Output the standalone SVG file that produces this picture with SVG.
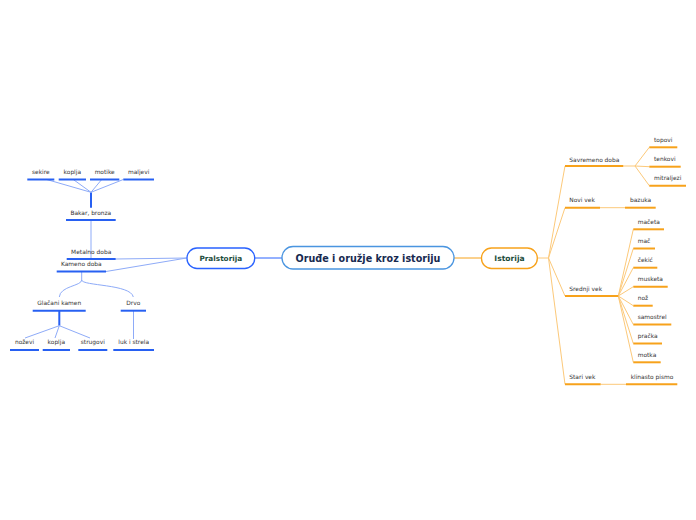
<svg xmlns="http://www.w3.org/2000/svg" width="696" height="520" viewBox="0 0 696 520">
<style>
  .t{font-family:"DejaVu Sans","Verdana",sans-serif;font-size:5.9px;fill:#333333}
  .c{text-anchor:middle}
  .ub{stroke:#2760f2;stroke-width:2;fill:none}
  .uo{stroke:#f7a21b;stroke-width:2;fill:none}
  .lb{stroke:#8eabf8;stroke-width:1;fill:none}
  .lo{stroke:#fcc97a;stroke-width:1;fill:none}
  .main{font-family:"DejaVu Sans","Verdana",sans-serif;font-weight:bold}
</style>
<rect width="696" height="520" fill="#ffffff"/>
<g id="connectors">
  <line x1="254.7" y1="258" x2="282" y2="258" stroke="#2962ff" stroke-width="1"/>
  <line x1="454" y1="258" x2="481.3" y2="258" stroke="#f7a21b" stroke-width="1"/>
  <!-- left -->
  <line class="lb" x1="186.7" y1="258" x2="115.7" y2="259"/>
  <line class="lb" x1="186.7" y1="258" x2="106" y2="271.5"/>
  <line class="lb" x1="91" y1="221" x2="91" y2="259"/>
  <line x1="91" y1="192.3" x2="91" y2="207.7" stroke="#2760f2" stroke-width="2"/>
  <line class="lb" x1="91" y1="192.3" x2="46.7" y2="179.5"/>
  <line class="lb" x1="91" y1="192.3" x2="73.3" y2="179.5"/>
  <line class="lb" x1="91" y1="192.3" x2="101.7" y2="179.5"/>
  <line class="lb" x1="91" y1="192.3" x2="123.3" y2="179.5"/>
  <path class="lb" d="M81.7,271.7 L81.7,280 C81.7,286 60,286 59.3,297"/>
  <path class="lb" d="M81.7,280 C81.7,286 131,284 133.3,297"/>
  <line x1="59.3" y1="311" x2="59.3" y2="325.7" stroke="#2760f2" stroke-width="2"/>
  <line class="lb" x1="59.3" y1="325.7" x2="25" y2="338"/>
  <line class="lb" x1="59.3" y1="325.7" x2="55" y2="338"/>
  <line class="lb" x1="59.3" y1="325.7" x2="90" y2="338"/>
  <line class="lb" x1="133.5" y1="311" x2="133.5" y2="339"/>
  <!-- right -->
  <line class="lo" x1="537.3" y1="258" x2="548.5" y2="258" stroke="#f7a21b"/>
  <line class="lo" x1="548.5" y1="258" x2="565" y2="166"/>
  <line class="lo" x1="548.5" y1="258" x2="565" y2="207.7"/>
  <line class="lo" x1="548.5" y1="258" x2="565" y2="296"/>
  <line class="lo" x1="548.5" y1="258" x2="565" y2="384.3"/>
  <line class="lo" x1="623.3" y1="166" x2="635" y2="166"/>
  <line class="lo" x1="635" y1="166" x2="649.3" y2="147.3"/>
  <line class="lo" x1="635" y1="166" x2="649.3" y2="166.7"/>
  <line class="lo" x1="635" y1="166" x2="649.3" y2="185.7"/>
  <line class="lo" x1="600" y1="207.7" x2="625" y2="207.7"/>
  <line class="lo" x1="600.7" y1="384.3" x2="626" y2="384.3"/>
  <line class="lo" x1="618.3" y1="296" x2="633.3" y2="229.3"/>
  <line class="lo" x1="618.3" y1="296" x2="633.3" y2="248.5"/>
  <line class="lo" x1="618.3" y1="296" x2="633.3" y2="267.7"/>
  <line class="lo" x1="618.3" y1="296" x2="633.3" y2="286.7"/>
  <line class="lo" x1="618.3" y1="296" x2="633.3" y2="305.7"/>
  <line class="lo" x1="618.3" y1="296" x2="633.3" y2="324.5"/>
  <line class="lo" x1="618.3" y1="296" x2="633.3" y2="343.5"/>
  <line class="lo" x1="618.3" y1="296" x2="633.3" y2="362.3"/>
</g>
<g id="root">
  <rect x="282" y="246.5" width="172" height="22.5" rx="11" fill="#ffffff" stroke="#4a95e0" stroke-width="1.3"/>
  <text class="main" x="368" y="261.8" text-anchor="middle" font-size="9.6" fill="#172a50">Oruđe i oružje kroz istoriju</text>
</g>
<g id="pralstorija">
  <rect x="187" y="248" width="67.7" height="20.5" rx="10" fill="#ffffff" stroke="#2962ff" stroke-width="1.3"/>
  <text class="main" x="220.8" y="260.8" text-anchor="middle" font-size="7.3" fill="#1d4d3c">Pralstorija</text>
</g>
<g id="istorija">
  <rect x="481.5" y="248" width="55.8" height="20.5" rx="10" fill="#ffffff" stroke="#f7a21b" stroke-width="1.3"/>
  <text class="main" x="509.5" y="260.8" text-anchor="middle" font-size="7.6" fill="#1d4d3c">Istorija</text>
</g>
<g id="sekire"><text class="t c" x="40.8" y="174.3">sekire</text><line class="ub" x1="27.3" y1="179.5" x2="54.3" y2="179.5"/></g>
<g id="koplja1"><text class="t c" x="72.3" y="174.3">koplja</text><line class="ub" x1="58.7" y1="179.5" x2="86" y2="179.5"/></g>
<g id="motike"><text class="t c" x="104.7" y="174.3">motike</text><line class="ub" x1="90" y1="179.5" x2="119.3" y2="179.5"/></g>
<g id="maljevi"><text class="t c" x="138.7" y="174.3">maljevi</text><line class="ub" x1="123.3" y1="179.5" x2="154" y2="179.5"/></g>
<g id="bakar"><text class="t c" x="90.8" y="215">Bakar, bronza</text><line class="ub" x1="66" y1="220" x2="115.7" y2="220"/></g>
<g id="metalno"><text class="t c" x="91.2" y="254.3">Metalno doba</text><line class="ub" x1="66.7" y1="259" x2="115.7" y2="259"/></g>
<g id="kameno"><text class="t c" x="81.3" y="266">Kameno doba</text><line class="ub" x1="56.7" y1="271.5" x2="106" y2="271.5"/></g>
<g id="glacani"><text class="t c" x="59.2" y="305.3">Glačani kamen</text><line class="ub" x1="32.7" y1="310.7" x2="85.7" y2="310.7"/></g>
<g id="drvo"><text class="t c" x="133.3" y="305.3">Drvo</text><line class="ub" x1="120.7" y1="310.7" x2="146" y2="310.7"/></g>
<g id="nozevi"><text class="t c" x="24.5" y="344.3">noževi</text><line class="ub" x1="10" y1="350" x2="39" y2="350"/></g>
<g id="koplja2"><text class="t c" x="56.3" y="344.3">koplja</text><line class="ub" x1="42.7" y1="350" x2="70" y2="350"/></g>
<g id="strugovi"><text class="t c" x="92.8" y="344.3">strugovi</text><line class="ub" x1="78.3" y1="350" x2="107.3" y2="350"/></g>
<g id="luk"><text class="t c" x="133.7" y="344.3">luk i strela</text><line class="ub" x1="113.3" y1="350" x2="154" y2="350"/></g>
<g id="savremeno"><text class="t" x="569.3" y="161.7">Savremeno doba</text><line class="uo" x1="565" y1="166" x2="623.3" y2="166"/></g>
<g id="topovi"><text class="t" x="654" y="141.7">topovi</text><line class="uo" x1="649.3" y1="147.3" x2="677.3" y2="147.3"/></g>
<g id="tenkovi"><text class="t" x="654" y="161">tenkovi</text><line class="uo" x1="649.3" y1="166.7" x2="680.7" y2="166.7"/></g>
<g id="mitraljezi"><text class="t" x="654" y="180">mitraljezi</text><line class="uo" x1="649.3" y1="185.7" x2="686" y2="185.7"/></g>
<g id="novi"><text class="t" x="569.3" y="201.7">Novi vek</text><line class="uo" x1="565" y1="207.7" x2="600" y2="207.7"/></g>
<g id="bazuka"><text class="t" x="630" y="201.7">bazuka</text><line class="uo" x1="625" y1="207.7" x2="655.7" y2="207.7"/></g>
<g id="srednji"><text class="t" x="569.3" y="290.5">Srednji vek</text><line class="uo" x1="565" y1="296" x2="618.3" y2="296"/></g>
<g id="maceta"><text class="t" x="637.7" y="224.3">mačeta</text><line class="uo" x1="633.3" y1="229.3" x2="664" y2="229.3"/></g>
<g id="mac"><text class="t" x="637.7" y="243.3">mač</text><line class="uo" x1="633.3" y1="248.5" x2="655" y2="248.5"/></g>
<g id="cekic"><text class="t" x="637.7" y="262.3">čekić</text><line class="uo" x1="633.3" y1="267.7" x2="657.3" y2="267.7"/></g>
<g id="musketa"><text class="t" x="637.7" y="281.3">musketa</text><line class="uo" x1="633.3" y1="286.7" x2="667.7" y2="286.7"/></g>
<g id="noz"><text class="t" x="637.7" y="300.3">nož</text><line class="uo" x1="633.3" y1="305.7" x2="652.7" y2="305.7"/></g>
<g id="samostrel"><text class="t" x="637.7" y="319">samostrel</text><line class="uo" x1="633.3" y1="324.5" x2="671.3" y2="324.5"/></g>
<g id="pracka"><text class="t" x="637.7" y="337.7">pračka</text><line class="uo" x1="633.3" y1="343.5" x2="662" y2="343.5"/></g>
<g id="motka"><text class="t" x="637.7" y="356.7">motka</text><line class="uo" x1="633.3" y1="362.3" x2="660.7" y2="362.3"/></g>
<g id="stari"><text class="t" x="569.3" y="379">Stari vek</text><line class="uo" x1="565" y1="384.3" x2="600.7" y2="384.3"/></g>
<g id="klinasto"><text class="t" x="630.7" y="379">klinasto pismo</text><line class="uo" x1="626" y1="384.3" x2="677.3" y2="384.3"/></g>
</svg>
